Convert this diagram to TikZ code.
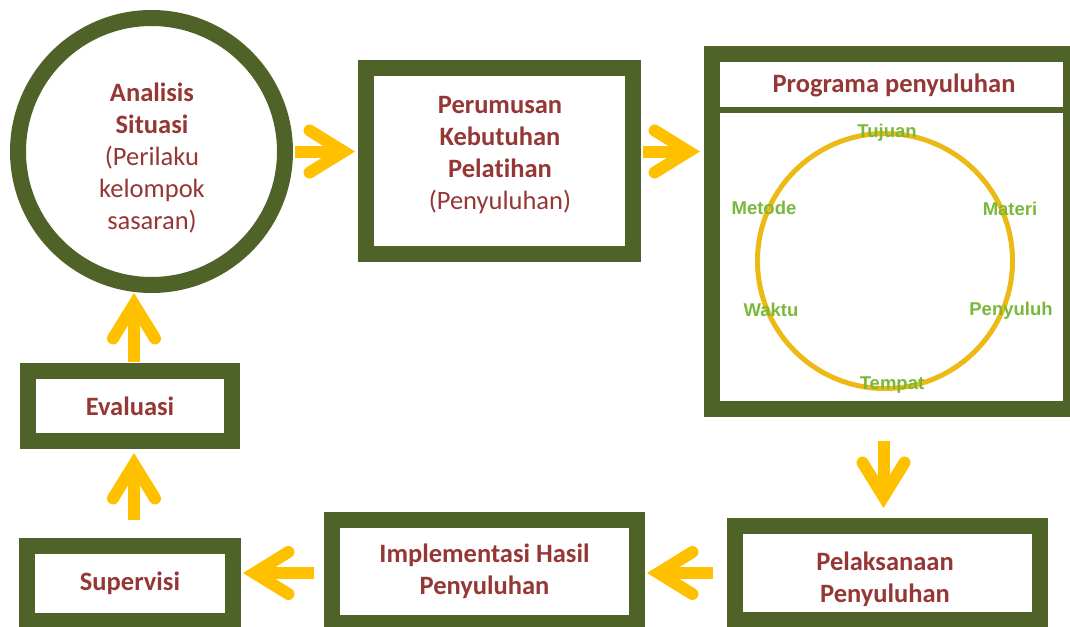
\documentclass[tikz,border=0pt]{standalone}
\usepackage{fontspec}
\setmainfont{Carlito}[Ligatures=NoCommon]
\newfontfamily\ringfont{Liberation Sans}
\usepackage{tikz}
\usetikzlibrary{positioning,arrows.meta}
\definecolor{boxgreen}{RGB}{79,98,40}
\definecolor{textred}{RGB}{149,55,53}
\definecolor{arrowyellow}{RGB}{255,192,0}
\definecolor{ringgold}{RGB}{236,186,20}
\definecolor{ringgreen}{RGB}{122,184,58}

\begin{document}
\begin{tikzpicture}[x=1pt,y=-1pt]
	\tikzstyle{every node}+=[inner sep=0pt]
	\tikzstyle{stage}=[draw=boxgreen,line width=16pt,fill=white,rectangle,text=textred,align=center,font=\fontsize{26.5}{32.2}\selectfont]
	\tikzstyle{stagetext}=[text=textred,align=center,font=\fontsize{26.5}{32.2}\selectfont]
	\tikzstyle{flow}=[draw=arrowyellow,line width=12pt,-{Straight Barb[length=34pt,width=42pt,line cap=round,line join=miter]}]
	\tikzstyle{aspect}=[text=ringgreen,font=\ringfont\bfseries\fontsize{18.5}{22}\selectfont]
	\useasboundingbox (0,0) rectangle (1070,626);
	\clip (0,0) rectangle (1070,626);
	\node[stage,circle,minimum size=267pt] (situasi) at (151.5,151.5) {};
	\node[stagetext] (situasitext) at (152,158) {\textbf{Analisis}\\\textbf{Situasi}\\(Perilaku\\kelompok\\sasaran)};
	\node[stage,minimum width=267pt,minimum height=186pt] (perumusan) at (499.5,161) {};
	\node[stagetext] (perumusantext) at (500,155) {\textbf{Perumusan}\\\textbf{Kebutuhan}\\\textbf{Pelatihan}\\(Penyuluhan)};
	\node[stage,minimum width=359pt,minimum height=355pt] (programa) at (891.5,231.5) {};
	\draw[boxgreen,line width=6pt] (programa.west |- 0,110) -- (programa.east |- 0,110);
	\node[stagetext] (programatitle) at (894,85) {\textbf{Programa penyuluhan}};
	\node[draw=ringgold,line width=5pt,circle,minimum size=255pt] (ring) at (885,261) {};
	\node[aspect] (tujuan) at (887,133) {Tujuan};
	\node[aspect] (materi) at (1010,209) {Materi};
	\node[aspect] (penyuluh) at (1011,311) {Penyuluh};
	\node[aspect] (tempat) at (892,385) {Tempat};
	\node[aspect] (waktu) at (771,310) {Waktu};
	\node[aspect] (metode) at (764,208) {Metode};
	\node[stage,minimum width=305pt,minimum height=94pt] (pelaksanaan) at (887.5,573) {};
	\node[stagetext] (pelaksanaantext) at (885,579) {\textbf{Pelaksanaan}\\\textbf{Penyuluhan}};
	\node[stage,minimum width=305pt,minimum height=103pt] (implementasi) at (484.5,571.5) {\textbf{Implementasi Hasil}\\\textbf{Penyuluhan}};
	\node[stage,minimum width=206pt,minimum height=75pt] (supervisi) at (130,583.5) {\textbf{Supervisi}};
	\node[stage,minimum width=204pt,minimum height=70pt] (evaluasi) at (130,406) {\textbf{Evaluasi}};
	\draw[flow,shorten <=2pt,shorten >=3pt] (situasi.east) -- (situasi.east -| perumusan.west);
	\draw[flow,shorten <=2pt,shorten >=4pt] (perumusan.east |- situasi.east) -- (programa.west |- situasi.east);
	\draw[flow,shorten <=24pt,shorten >=10pt] ([xshift=-4pt]pelaksanaan.north |- programa.south) -- ([xshift=-4pt]pelaksanaan.north);
	\draw[flow,shorten <=14pt,shorten >=2pt] (pelaksanaan.west) -- (pelaksanaan.west -| implementasi.east);
	\draw[flow,shorten <=10pt,shorten >=2pt] (implementasi.west |- pelaksanaan.west) -- (supervisi.east |- pelaksanaan.west);
	\draw[flow,shorten <=18pt,shorten >=4pt] ([xshift=4pt]supervisi.north) -- ([xshift=4pt]evaluasi.south);
	\draw[flow,shorten <=1pt] ([xshift=4pt]evaluasi.north) -- ([xshift=4pt]evaluasi.north |- situasi.south);
\end{tikzpicture}
\end{document}
